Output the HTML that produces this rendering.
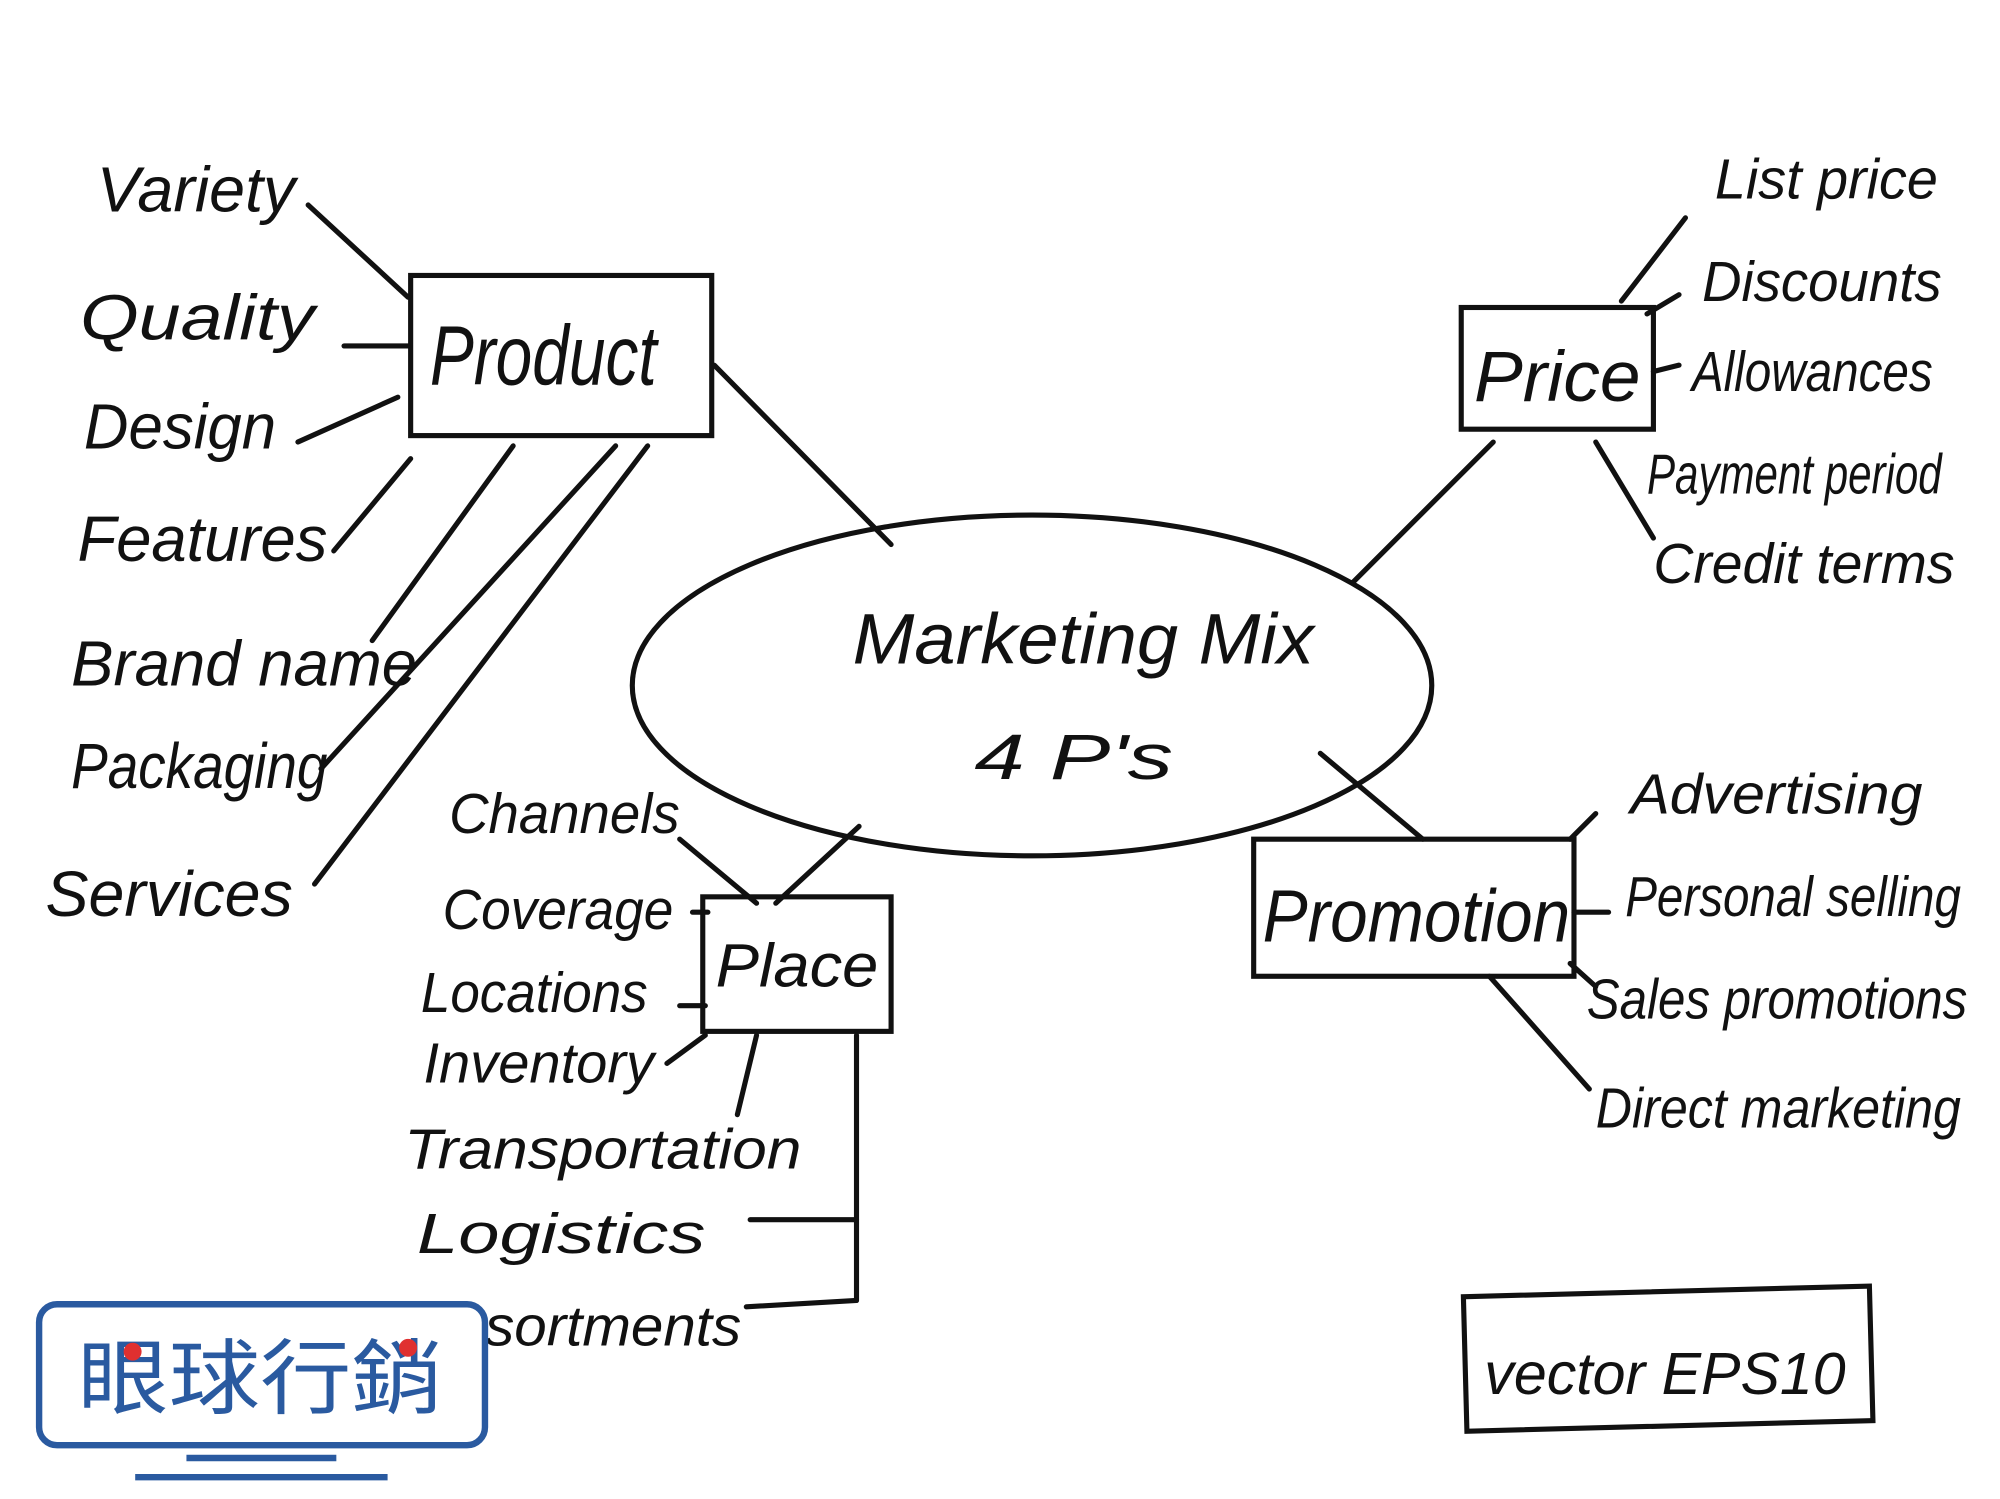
<!DOCTYPE html>
<html><head><meta charset="utf-8"><style>
html,body{margin:0;padding:0;background:#fff;}
svg{display:block;}
text{font-family:"Liberation Sans",sans-serif;font-style:italic;fill:#111;}
</style></head><body>
<svg width="2000" height="1499" viewBox="0 0 1560 1170" xmlns="http://www.w3.org/2000/svg">
<g stroke="#111" stroke-width="4" fill="none" stroke-linecap="round">
<rect x="320" y="215" width="235" height="125"/>
<rect x="1140" y="240" width="150" height="95"/>
<rect x="978" y="655" width="250" height="107"/>
<rect x="548" y="700" width="147" height="105"/>
<ellipse cx="805" cy="535" rx="312" ry="133"/>
<rect x="1143" y="1008" width="317" height="105" transform="rotate(-1.5 1300 1060)"/>
<line x1="240" y1="160" x2="318" y2="232"/>
<line x1="268" y1="270" x2="318" y2="270"/>
<line x1="232" y1="345" x2="310" y2="310"/>
<line x1="260" y1="430" x2="320" y2="358"/>
<line x1="290" y1="500" x2="400" y2="348"/>
<line x1="250" y1="600" x2="480" y2="348"/>
<line x1="245" y1="690" x2="505" y2="348"/>
<line x1="557" y1="285" x2="695" y2="425"/>
<line x1="1055" y1="455" x2="1165" y2="345"/>
<line x1="1265" y1="235" x2="1315" y2="170"/>
<line x1="1285" y1="245" x2="1310" y2="230"/>
<line x1="1290" y1="290" x2="1310" y2="285"/>
<line x1="1245" y1="345" x2="1290" y2="420"/>
<line x1="1030" y1="588" x2="1110" y2="655"/>
<line x1="1225" y1="655" x2="1245" y2="635"/>
<line x1="1228" y1="712" x2="1255" y2="712"/>
<line x1="1225" y1="752" x2="1245" y2="770"/>
<line x1="1162" y1="762" x2="1240" y2="850"/>
<line x1="605" y1="705" x2="670" y2="645"/>
<line x1="530" y1="655" x2="590" y2="705"/>
<line x1="540" y1="712" x2="552" y2="712"/>
<line x1="530" y1="785" x2="550" y2="785"/>
<line x1="520" y1="830" x2="550" y2="808"/>
<line x1="575" y1="870" x2="590" y2="808"/>
<line x1="668" y1="808" x2="668" y2="1015"/>
<line x1="585" y1="952" x2="668" y2="952"/>
<line x1="582" y1="1020" x2="668" y2="1015"/>
</g>
<g lengthAdjust="spacingAndGlyphs">
<text x="335" y="300" font-size="66" textLength="177" lengthAdjust="spacingAndGlyphs">Product</text>
<text x="1150" y="313" font-size="56" textLength="130" lengthAdjust="spacingAndGlyphs">Price</text>
<text x="985" y="735" font-size="58" textLength="240" lengthAdjust="spacingAndGlyphs">Promotion</text>
<text x="558" y="770" font-size="48" textLength="127" lengthAdjust="spacingAndGlyphs">Place</text>
<text x="665" y="518" font-size="56" textLength="360" lengthAdjust="spacingAndGlyphs">Marketing Mix</text>
<text x="760" y="608" font-size="50" textLength="155" lengthAdjust="spacingAndGlyphs">4 P's</text>
<g font-size="50">
<text x="75" y="165" textLength="155" lengthAdjust="spacingAndGlyphs">Variety</text>
<text x="62" y="265" textLength="183" lengthAdjust="spacingAndGlyphs">Quality</text>
<text x="65" y="350" textLength="150" lengthAdjust="spacingAndGlyphs">Design</text>
<text x="60" y="438" textLength="195" lengthAdjust="spacingAndGlyphs">Features</text>
<text x="55" y="535" textLength="270" lengthAdjust="spacingAndGlyphs">Brand name</text>
<text x="55" y="615" textLength="200" lengthAdjust="spacingAndGlyphs">Packaging</text>
<text x="35" y="715" textLength="193" lengthAdjust="spacingAndGlyphs">Services</text>
</g>
<g font-size="44">
<text x="1338" y="155" textLength="174" lengthAdjust="spacingAndGlyphs">List price</text>
<text x="1328" y="235" textLength="187" lengthAdjust="spacingAndGlyphs">Discounts</text>
<text x="1320" y="305" textLength="188" lengthAdjust="spacingAndGlyphs">Allowances</text>
<text x="1285" y="385" textLength="230" lengthAdjust="spacingAndGlyphs">Payment period</text>
<text x="1290" y="455" textLength="235" lengthAdjust="spacingAndGlyphs">Credit terms</text>
<text x="1272" y="635" textLength="228" lengthAdjust="spacingAndGlyphs">Advertising</text>
<text x="1268" y="715" textLength="262" lengthAdjust="spacingAndGlyphs">Personal selling</text>
<text x="1238" y="795" textLength="297" lengthAdjust="spacingAndGlyphs">Sales promotions</text>
<text x="1245" y="880" textLength="285" lengthAdjust="spacingAndGlyphs">Direct marketing</text>
<text x="350" y="650" textLength="180" lengthAdjust="spacingAndGlyphs">Channels</text>
<text x="345" y="725" textLength="180" lengthAdjust="spacingAndGlyphs">Coverage</text>
<text x="328" y="790" textLength="177" lengthAdjust="spacingAndGlyphs">Locations</text>
<text x="330" y="845" textLength="180" lengthAdjust="spacingAndGlyphs">Inventory</text>
<text x="315" y="912" textLength="310" lengthAdjust="spacingAndGlyphs">Transportation</text>
<text x="325" y="978" textLength="225" lengthAdjust="spacingAndGlyphs">Logistics</text>
<text x="325" y="1050" textLength="253" lengthAdjust="spacingAndGlyphs">Assortments</text>
</g>
<text x="1158" y="1088" font-size="46" textLength="282" lengthAdjust="spacingAndGlyphs">vector EPS10</text>
</g>
<rect x="30" y="1018" width="348" height="110" rx="14" fill="#fff" stroke="#2a5aa0" stroke-width="5"/>
<text x="60" y="1098" font-size="64" textLength="285" lengthAdjust="spacingAndGlyphs" style="font-family:'Noto Sans CJK TC',sans-serif;font-style:normal;fill:#2a5aa0">眼球行銷</text>
<circle cx="103" cy="1055" r="7" fill="#e03030"/>
<circle cx="318" cy="1052" r="7" fill="#e03030"/>
<line x1="145" y1="1138" x2="262" y2="1138" stroke="#2a5aa0" stroke-width="5"/>
<line x1="105" y1="1153" x2="302" y2="1153" stroke="#2a5aa0" stroke-width="5"/>
</svg>
</body></html>
